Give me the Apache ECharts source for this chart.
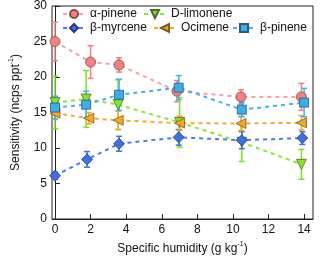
<!DOCTYPE html>
<html><head><meta charset="utf-8">
<script src="https://cdn.jsdelivr.net/npm/echarts@6/dist/echarts.min.js"></script>
<style>html,body{margin:0;padding:0;background:#fff}#c{width:320px;height:260px}</style>
</head><body><div id="c"></div>
<script>
// Data
const names = ['α-pinene', 'D-limonene', 'β-myrcene', 'Ocimene', 'β-pinene'];
const alphaX = [0, 2.0, 3.6, 6.85, 10.45, 13.85];
const alphaY = [25.0, 22.1, 21.7, 18.0, 17.2, 17.2];
const alphaErr = [2.7, 2.3, 1.0, 1.5, 1.0, 1.9];
const limX = [0, 1.75, 3.55, 7.0, 10.5, 13.85];
const limY = [16.4, 16.9, 16.1, 13.6, 10.8, 7.7];
const limErr = [3.7, 4.0, 3.5, 3.5, 2.7, 2.1];
const myrX = [0, 1.8, 3.6, 6.95, 10.5, 13.9];
const myrY = [6.1, 8.4, 10.6, 11.5, 11.1, 11.4];
const myrErr = [0.5, 1.1, 1.05, 1.1, 1.2, 0.9];
const ociX = [0, 1.9, 3.55, 7.0, 10.45, 13.85];
const ociY = [14.9, 14.2, 13.9, 13.5, 13.45, 13.55];
const ociErr = [0.9, 0.8, 1.3, 1.0, 1.0, 1.0];
const pinX = [0, 1.75, 3.6, 6.95, 10.5, 14.0];
const pinY = [15.7, 16.1, 17.5, 18.5, 15.4, 16.4];
const pinErr = [1.6, 1.9, 2.2, 1.7, 1.0, 2.0];
const xTicks = [0, 2, 4, 6, 8, 10, 12, 14];

const F = 'Liberation Sans, Arial, sans-serif';
const specs = [
  {name: names[0], x: alphaX, y: alphaY, e: alphaErr, fill: '#F28282', line: '#F4A2A2', bar: '#F08080', border: '#8a4a4a', symbol: 'circle', size: 10, rot: 0},
  {name: names[1], x: limX, y: limY, e: limErr, fill: '#86E22A', line: '#8CE636', bar: '#7EE020', border: '#4a6a2a', symbol: 'triangle', size: 10, rot: 180},
  {name: names[2], x: myrX, y: myrY, e: myrErr, fill: '#3D70E2', line: '#4A7DE8', bar: '#3D70E2', border: '#2a3a7a', symbol: 'diamond', size: 11, rot: 0},
  {name: names[3], x: ociX, y: ociY, e: ociErr, fill: '#F5A623', line: '#F6A82A', bar: '#F5A623', border: '#7a5a2a', symbol: 'triangle', size: 10, rot: 90},
  {name: names[4], x: pinX, y: pinY, e: pinErr, fill: '#3BAEEA', line: '#44B2EC', bar: '#44B2EC', border: '#2a5a7a', symbol: 'rect', size: 9, rot: 0}
];

const series = [];
specs.forEach(s => {
  series.push({
    type: 'custom', name: s.name + '_err', z: 2,
    data: s.x.map((v, i) => [v, s.y[i], s.e[i]]),
    renderItem: function (params, api) {
      const x = api.value(0), y = api.value(1), e = api.value(2);
      const top = api.coord([x, y + e]);
      const bot = api.coord([x, y - e]);
      const w = 3;
      const st = {stroke: s.bar, lineWidth: 1.5};
      return {type: 'group', children: [
        {type: 'line', shape: {x1: top[0], y1: top[1], x2: bot[0], y2: bot[1]}, style: st},
        {type: 'line', shape: {x1: top[0] - w, y1: top[1], x2: top[0] + w, y2: top[1]}, style: st},
        {type: 'line', shape: {x1: bot[0] - w, y1: bot[1], x2: bot[0] + w, y2: bot[1]}, style: st}
      ]};
    },
    silent: true
  });
});
specs.forEach(s => {
  series.push({
    type: 'line', name: s.name, z: 3,
    data: s.x.map((v, i) => [v, s.y[i]]),
    symbol: s.symbol, symbolSize: s.size, symbolRotate: s.rot,
    showAllSymbol: true,
    lineStyle: {color: s.line, width: 2, type: [4, 4]},
    itemStyle: {color: s.fill, borderColor: s.border, borderWidth: 0.8},
    animation: false
  });
});

const legPos = [
  {n: names[0], left: 62, top: 8},
  {n: names[1], left: 143, top: 8},
  {n: names[2], left: 62, top: 22},
  {n: names[3], left: 153, top: 22},
  {n: names[4], left: 232, top: 22}
];
const legend = legPos.map(p => ({
  data: [p.n], left: p.left, top: p.top, padding: 0,
  itemWidth: 22, itemHeight: 10, itemGap: 0,
  textStyle: {fontFamily: F, fontSize: 12, color: '#111'}
}));

const chart = echarts.init(document.getElementById('c'), null, {renderer: 'canvas'});
chart.setOption({
  animation: false,
  backgroundColor: '#fff',
  legend: legend,
  grid: {left: 49, right: 7, top: 5, bottom: 41, show: true, borderColor: '#222', borderWidth: 1},
  xAxis: {
    type: 'value', min: -0.17, max: 14.5,
    name: 'Specific humidity (g kg{sup|-1})', nameLocation: 'middle', nameGap: 22,
    nameTextStyle: {fontFamily: F, fontSize: 12, color: '#111', rich: {sup: {fontSize: 7, fontFamily: F, color: '#111', padding: [0, 0, 8, 0]}}},
    axisLine: {onZero: false, lineStyle: {color: '#222', width: 1}},
    axisTick: {inside: true, length: 5, customValues: xTicks, lineStyle: {color: '#222'}},
    axisLabel: {customValues: xTicks, fontFamily: F, fontSize: 12, color: '#111', margin: 5},
    splitLine: {show: false}
  },
  yAxis: {
    type: 'value', min: 0, max: 30, interval: 5,
    name: 'Sensitivity (ncps ppt{sup|-1})', nameLocation: 'middle', nameGap: 29, nameRotate: 90,
    nameTextStyle: {fontFamily: F, fontSize: 12, color: '#111', rich: {sup: {fontSize: 7, fontFamily: F, color: '#111', padding: [0, 0, 8, 0]}}},
    axisLine: {show: true, lineStyle: {color: '#222', width: 1}},
    axisTick: {inside: true, length: 5, lineStyle: {color: '#222'}},
    axisLabel: {fontFamily: F, fontSize: 12, color: '#111', margin: 5},
    splitLine: {show: false}
  },
  series: series
});
</script></body></html>
